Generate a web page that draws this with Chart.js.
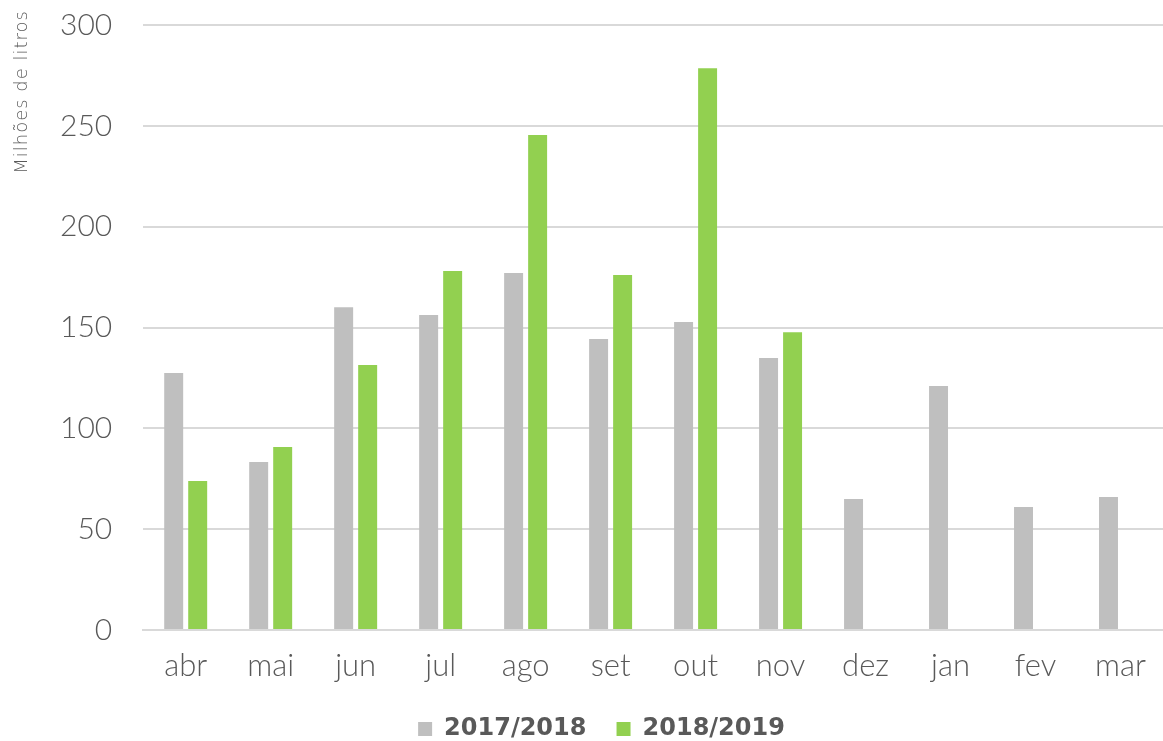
<!DOCTYPE html>
<html><head><meta charset="utf-8">
<script src="https://cdn.jsdelivr.net/npm/chart.js@4/dist/chart.umd.min.js"></script>
<style>html,body{margin:0;padding:0;background:#fff}#wrap{width:1163px;height:741px;overflow:hidden}</style>
</head><body><div id="wrap"><canvas id="c" width="1163" height="751"></canvas></div>
<script>
const categories = ["abr","mai","jun","jul","ago","set","out","nov","dez","jan","fev","mar"];
const series1Name = "2017/2018";
const series2Name = "2018/2019";
const series1 = [127.4, 83.3, 160.1, 156.2, 177, 144.3, 152.7, 134.9, 65, 121, 61, 66];
const series2 = [73.9, 90.7, 131.4, 178, 245.4, 176, 278.6, 147.7, null, null, null, null];
const yTicks = [0, 50, 100, 150, 200, 250, 300];
const yTitle = "Milhões de litros";

const FONT = "Lato, 'Open Sans', sans-serif";

const yTitlePlugin = {
  id: 'yTitle',
  afterDraw(chart) {
    const ctx = chart.ctx;
    ctx.save();
    ctx.translate(22, 10);
    ctx.rotate(-Math.PI / 2);
    ctx.font = "200 18px 'DejaVu Sans', sans-serif";
    if ('letterSpacing' in ctx) ctx.letterSpacing = '1px';
    ctx.fillStyle = '#595959';
    ctx.textAlign = 'right';
    ctx.textBaseline = 'middle';
    ctx.fillText(yTitle, 0, 0);
    ctx.restore();
  }
};

new Chart(document.getElementById('c'), {
  type: 'bar',
  data: {
    labels: categories,
    datasets: [
      {label: series1Name, data: series1, backgroundColor: '#bfbfbf', categoryPercentage: 0.565, barPercentage: 0.79},
      {label: series2Name, data: series2, backgroundColor: '#92d050', categoryPercentage: 0.565, barPercentage: 0.79}
    ]
  },
  plugins: [yTitlePlugin],
  options: {
    responsive: false,
    animation: false,
    layout: {padding: {top: 25, right: 0, left: 40, bottom: 0}},
    plugins: {
      legend: {
        position: 'bottom',
        labels: {
          boxWidth: 14, boxHeight: 14, color: '#595959',
          font: {family: "'DejaVu Sans', sans-serif", size: 24, weight: 'bold'}, padding: 5,
          generateLabels: chart => {
            const items = Chart.defaults.plugins.legend.labels.generateLabels(chart);
            items.forEach((it, i) => { if (i < items.length - 1) it.text = it.text + '\u00a0\u00a0\u00a0'; });
            return items;
          }
        }
      },
      tooltip: {enabled: false}
    },
    scales: {
      x: {
        afterFit: ax => { ax.height = 82; },
        grid: {display: false, drawTicks: false},
        border: {display: true, color: '#d9d9d9', width: 2},
        ticks: {color: '#595959', font: {family: FONT, size: 31, weight: '300', lineHeight: 1.2}, padding: 17}
      },
      y: {
        min: 0, max: 300,
        afterBuildTicks: ax => { ax.ticks = yTicks.map(v => ({value: v})); },
        afterFit: ax => { ax.width += 20; },
        grid: {color: '#d9d9d9', lineWidth: 2, drawTicks: true, tickLength: 31, tickColor: 'rgba(0,0,0,0)'},
        border: {display: false},
        ticks: {color: '#595959', font: {family: FONT, size: 30, weight: '300'}, padding: 0}
      }
    }
  }
});
</script></body></html>
